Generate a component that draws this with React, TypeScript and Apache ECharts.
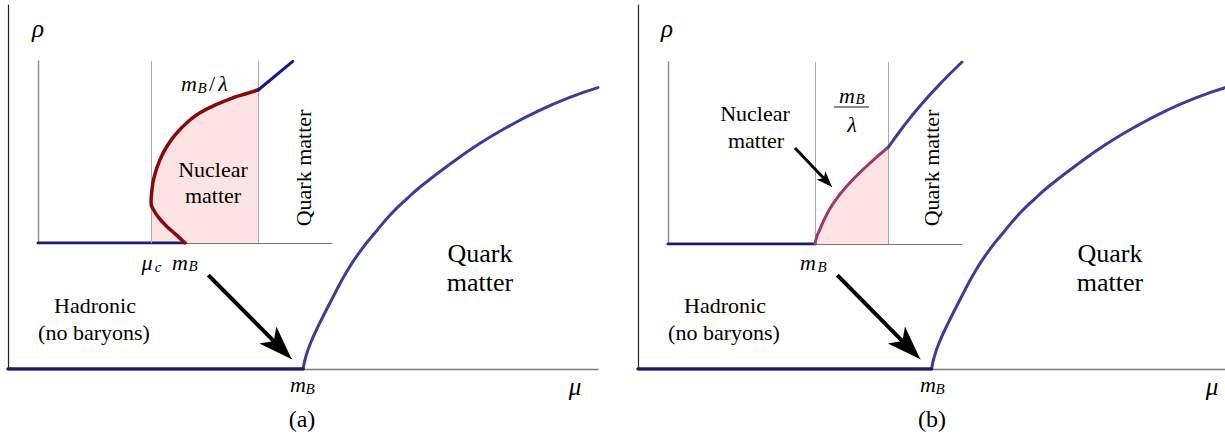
import React, { useEffect, useRef } from "react";
import * as echarts from "echarts";

// Baryon density ρ versus chemical potential μ, in units where m_B = 1.
const MAIN_MU = [1.0, 1.01, 1.025, 1.05, 1.1, 1.15, 1.2, 1.25, 1.3, 1.35, 1.4, 1.5, 1.6, 1.7, 1.8, 1.9, 2.0];
const MAIN_RHO = [0, 0.035, 0.07, 0.115, 0.195, 0.27, 0.33, 0.38, 0.427, 0.466, 0.502, 0.564, 0.62, 0.668, 0.71, 0.745, 0.773];
const HADRONIC_MU = [0, 1];
const HADRONIC_RHO = [0, 0];

// Inset (a): back-bending nuclear branch between μ_c and m_B/λ
const MU_C = 0.772;
const M_LAMBDA = 1.5;
const A_NUC_MU = [1.0, 0.939, 0.871, 0.816, 0.782, 0.769, 0.774, 0.789, 0.83, 0.884, 0.946, 1.02, 1.102, 1.211, 1.327, 1.415, 1.5];
const A_NUC_RHO = [0, 0.046, 0.095, 0.145, 0.188, 0.221, 0.282, 0.359, 0.458, 0.54, 0.606, 0.666, 0.716, 0.76, 0.798, 0.82, 0.842];
const A_FILL_FROM = 5; // leftmost point of the nuclear branch
const A_QUARK_MU = [1.5, 1.733];
const A_QUARK_RHO = [0.842, 0.998];

// Inset (b): monotonic nuclear branch between m_B and m_B/λ
const B_NUC_MU = [1.0, 1.012, 1.034, 1.068, 1.122, 1.211, 1.354, 1.5];
const B_NUC_RHO = [0, 0.04, 0.082, 0.143, 0.22, 0.313, 0.43, 0.533];
const B_QUARK_MU = [1.5, 1.599, 1.714, 1.85, 2.0];
const B_QUARK_RHO = [0.533, 0.643, 0.758, 0.879, 1.0];

// Arrows: [μ, ρ] of tail and tip, in the axis units of their panel
const BIG_ARROW_TAIL = [0.679, 0.258];
const BIG_ARROW_TIP = [0.962, 0.027];
const SMALL_ARROW_TAIL = [0.864, 0.527];
const SMALL_ARROW_TIP = [1.116, 0.313];

const SERIF = "'Liberation Serif', 'Times New Roman', serif";
const NAVY = "#1c1c6e";
const SLATE = "#3c3c9a";
const DEEP_BLUE = "#131a86";
const DARK_RED = "#8a0808";
const PLUM = "#9c3a6c";
const PINK = "#fde3e4";
const GUIDE = "#a9a9a9";

const pts = (xs: number[], ys: number[]) => xs.map((x, i) => [x, ys[i]]);

function axisPair(grid: number, xColor: string, yColor: string, xW: number, yW: number) {
  const common = {
    type: "value" as const,
    gridIndex: grid,
    axisLabel: { show: false },
    axisTick: { show: false },
    splitLine: { show: false },
  };
  return {
    x: { ...common, min: 0, max: 2, axisLine: { show: true, lineStyle: { color: xColor, width: xW } } },
    y: { ...common, min: 0, max: 1, axisLine: { show: true, lineStyle: { color: yColor, width: yW } } },
  };
}

function curve(grid: number, data: number[][], color: string, width: number, z = 3, smooth: number | boolean = 0.5) {
  return {
    type: "line",
    xAxisIndex: grid,
    yAxisIndex: grid,
    data,
    smooth,
    showSymbol: false,
    silent: true,
    z,
    lineStyle: { color, width, cap: "round", join: "round" },
  };
}

function fill(grid: number, data: number[][]) {
  return {
    type: "line",
    xAxisIndex: grid,
    yAxisIndex: grid,
    data,
    smooth: 0.5,
    showSymbol: false,
    silent: true,
    z: 1,
    lineStyle: { width: 0, opacity: 0 },
    areaStyle: { color: PINK, opacity: 1 },
  };
}

function guides(grid: number, values: number[]) {
  return {
    type: "line",
    xAxisIndex: grid,
    yAxisIndex: grid,
    data: [[values[0], 0]],
    showSymbol: false,
    silent: true,
    z: 2,
    lineStyle: { opacity: 0 },
    markLine: {
      silent: true,
      animation: false,
      symbol: ["none", "none"],
      label: { show: false },
      lineStyle: { color: GUIDE, width: 1, type: "solid" },
      emphasis: { disabled: true },
      data: values.map((v) => ({ xAxis: v })),
    },
  };
}

function arrow(grid: number, tail: number[], tip: number[], shaftW: number, headSize: number[]) {
  const f = 0.82;
  const neck = [tail[0] + (tip[0] - tail[0]) * f, tail[1] + (tip[1] - tail[1]) * f];
  const base = {
    type: "line",
    xAxisIndex: grid,
    yAxisIndex: grid,
    data: [tail],
    showSymbol: false,
    silent: true,
    z: 6,
    lineStyle: { opacity: 0 },
  };
  return [
    {
      ...base,
      markLine: {
        silent: true,
        animation: false,
        symbol: ["none", "none"],
        label: { show: false },
        emphasis: { disabled: true },
        lineStyle: { color: "#000", width: shaftW, type: "solid", cap: "butt" },
        data: [[{ coord: tail }, { coord: neck }]],
      },
    },
    {
      ...base,
      markLine: {
        silent: true,
        animation: false,
        symbol: ["none", "arrow"],
        symbolSize: headSize,
        label: { show: false },
        emphasis: { disabled: true },
        lineStyle: { color: "#000", width: 1, type: "solid" },
        data: [[{ coord: neck }, { coord: tip }]],
      },
    },
  ];
}

function txt(x: number, y: number, text: string, size: number, italic = false, rotation = 0) {
  return {
    type: "text",
    x,
    y,
    rotation,
    silent: true,
    z: 100,
    style: {
      text,
      fontFamily: SERIF,
      fontSize: size,
      fontStyle: italic ? "italic" : "normal",
      fill: "#000",
      align: "center",
      verticalAlign: "middle",
    },
  };
}

export default function App() {
  const ref = useRef<HTMLDivElement>(null);

  useEffect(() => {
    if (!ref.current) return;
    const chart = echarts.init(ref.current, undefined, { renderer: "svg" });

    const mainA = axisPair(0, "#7a7a7a", "#222", 1.4, 1.2);
    const mainB = axisPair(1, "#7a7a7a", "#222", 1.4, 1.2);
    const insA = axisPair(2, "#777", "#8a8a8a", 1.2, 1.4);
    const insB = axisPair(3, "#777", "#8a8a8a", 1.2, 1.4);

    const mainCurve = pts(MAIN_MU, MAIN_RHO);
    const hadronic = pts(HADRONIC_MU, HADRONIC_RHO);
    const aNuc = pts(A_NUC_MU, A_NUC_RHO);
    const bNuc = pts(B_NUC_MU, B_NUC_RHO);

    const option = {
      animation: false,
      backgroundColor: "#fff",
      grid: [
        { left: 8, top: 5, width: 590, height: 364 },
        { left: 638, top: 5, width: 590, height: 364 },
        { left: 38, top: 61, width: 294, height: 182 },
        { left: 668, top: 62, width: 294, height: 182 },
      ],
      xAxis: [mainA.x, mainB.x, insA.x, insB.x],
      yAxis: [mainA.y, mainB.y, insA.y, insB.y],
      series: [
        // panel (a)
        curve(0, hadronic, NAVY, 3.5, 4, false),
        curve(0, mainCurve, SLATE, 3),
        ...arrow(0, BIG_ARROW_TAIL, BIG_ARROW_TIP, 4, [18, 34]),
        // panel (b)
        curve(1, hadronic, NAVY, 3.5, 4, false),
        curve(1, mainCurve, SLATE, 3),
        ...arrow(1, BIG_ARROW_TAIL, BIG_ARROW_TIP, 4, [18, 34]),
        // inset (a)
        fill(2, aNuc.slice(A_FILL_FROM)),
        guides(2, [MU_C, M_LAMBDA]),
        curve(2, hadronic, NAVY, 3, 4, false),
        curve(2, aNuc, DARK_RED, 3.5, 5, 0.5),
        curve(2, pts(A_QUARK_MU, A_QUARK_RHO), DEEP_BLUE, 3, 5, false),
        // inset (b)
        fill(3, bNuc),
        guides(3, [1, M_LAMBDA]),
        curve(3, hadronic, NAVY, 3, 4, false),
        curve(3, bNuc, PLUM, 3, 5),
        curve(3, pts(B_QUARK_MU, B_QUARK_RHO), SLATE, 3, 5),
        ...arrow(3, SMALL_ARROW_TAIL, SMALL_ARROW_TIP, 3, [9, 16]),
      ],
      graphic: [
        // panel (a) labels
        txt(38, 28, "ρ", 25, true),
        txt(298, 384, "m", 22, true),
        txt(310, 389, "B", 15, true),
        txt(575, 386, "μ", 25, true),
        txt(302, 419, "(a)", 24),
        txt(95, 305, "Hadronic", 22),
        txt(94, 332, "(no baryons)", 22),
        txt(480, 253, "Quark", 26),
        txt(480, 282, "matter", 26),
        // inset (a) labels
        txt(189, 83, "m", 22, true),
        txt(202, 88, "B", 15, true),
        txt(212, 83, "/", 22),
        txt(223, 83, "λ", 22, true),
        txt(213, 169, "Nuclear", 22),
        txt(213, 195, "matter", 22),
        txt(303, 168, "Quark matter", 22, false, Math.PI / 2),
        txt(147, 262, "μ", 22, true),
        txt(158, 267, "c", 15, true),
        txt(180, 262, "m", 22, true),
        txt(193, 266, "B", 15, true),
        // panel (b) labels
        txt(667, 28, "ρ", 25, true),
        txt(928, 384, "m", 22, true),
        txt(940, 389, "B", 15, true),
        txt(1212, 386, "μ", 25, true),
        txt(932, 419, "(b)", 24),
        txt(725, 305, "Hadronic", 22),
        txt(724, 332, "(no baryons)", 22),
        txt(1110, 253, "Quark", 26),
        txt(1110, 282, "matter", 26),
        // inset (b) labels
        txt(847, 95, "m", 22, true),
        txt(860, 99, "B", 15, true),
        {
          type: "line",
          silent: true,
          z: 100,
          shape: { x1: 834, y1: 107, x2: 869, y2: 107 },
          style: { stroke: "#111", lineWidth: 1 },
        },
        txt(852, 124, "λ", 22, true),
        txt(755, 113, "Nuclear", 22),
        txt(756, 140, "matter", 22),
        txt(931, 168, "Quark matter", 22, false, Math.PI / 2),
        txt(808, 262, "m", 22, true),
        txt(822, 267, "B", 15, true),
      ],
    };

    chart.setOption(option as any);
    return () => chart.dispose();
  }, []);

  return (
    <div
      ref={ref}
      style={{ position: "absolute", left: 0, top: 0, width: 1225, height: 437, background: "#fff" }}
    />
  );
}
